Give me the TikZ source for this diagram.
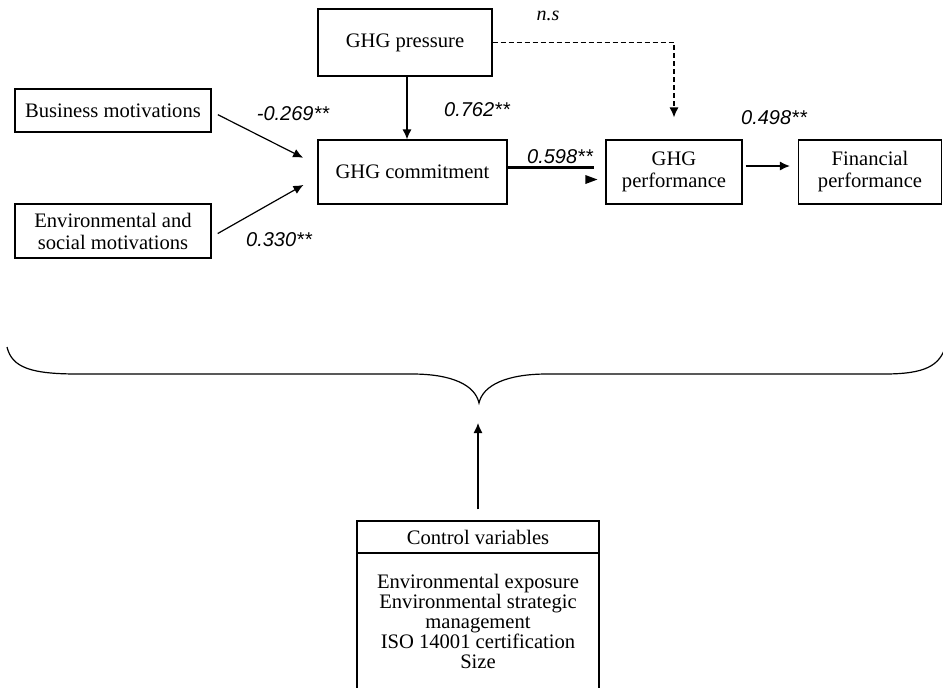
\documentclass[tikz,border=0pt]{standalone}
\usepackage{fontspec}
\setmainfont{Liberation Serif}
\newfontfamily\coeffont{Liberation Sans}
\usetikzlibrary{arrows.meta,positioning}

\begin{document}
\begin{tikzpicture}[
    x=0.5pt, y=-0.5pt,
    varbox/.style={draw, line width=0.6pt, align=center, inner sep=2pt,
        font=\fontsize{10.3}{11}\selectfont},
    coef/.style={font=\coeffont\fontsize{10}{12}\selectfont\itshape, inner sep=0pt},
    link/.style={line width=0.6pt, -{Latex[length=5pt,width=4.5pt]}}
]
\useasboundingbox (0,0) rectangle (943,687);

% variables
\node[varbox, minimum width=87pt, minimum height=33.5pt] (press) at (405,42.5) {GHG pressure};
\node[varbox, minimum width=98pt, minimum height=21.5pt] (busi) at (113,110.5) {Business motivations};
\node[varbox, minimum width=98pt, minimum height=27pt] (envi) at (113,231) {Environmental and\\social motivations};
\node[varbox, minimum width=94.5pt, minimum height=32pt] (comm) at (412.5,172) {GHG commitment};
\node[varbox, minimum width=68pt, minimum height=32pt] (perf) at (674,172) {GHG\\performance};
\node[varbox, minimum width=71.5pt, minimum height=32pt] (fina) at (870,172) {Financial\\performance};

% control variables
\node[varbox, minimum width=121pt, minimum height=16pt] (ctrlhead) at (478,537) {Control variables};
\node[varbox, minimum width=121pt, minimum height=68.5pt,
    font=\fontsize{10.3}{10.1}\selectfont] (ctrlbody) at (478,621.5)
    {Environmental exposure\\Environmental strategic\\management\\ISO 14001 certification\\Size};

% paths
\draw[link, shorten <=3.5pt, shorten >=8pt] ([yshift=-0.5pt]busi.east) -- ([yshift=3.5pt]comm.west);
\draw[link, shorten <=3.5pt, shorten >=8pt] ([yshift=-3pt]envi.east) -- ([yshift=-2.5pt]comm.west);
\draw[link] ([xshift=1pt]press.south) -- ([xshift=1pt]press.south |- comm.north);
\draw[line width=0.6pt, dash pattern=on 2.5pt off 1.5pt, -{Latex[length=5pt,width=4.5pt]},
    shorten >=11pt] (press.east) -| (perf.north);
\draw[line width=1.5pt, shorten >=5.5pt] ([yshift=2.5pt]comm.east) -- ([yshift=2.5pt]perf.west);
\fill ([shift={(-4pt,-3.75pt)}]perf.west) -- ([shift={(-10pt,-1.5pt)}]perf.west)
    -- ([shift={(-10pt,-6pt)}]perf.west) -- cycle;
\draw[link, shorten <=1.5pt, shorten >=4pt] ([yshift=3pt]perf.east) -- ([yshift=3pt]fina.west);

% coefficients
\node[coef] (c269) at (293,114) {-0.269**};
\node[coef] (c330) at (279,240) {0.330**};
\node[coef] (c762) at (477,110) {0.762**};
\node[coef] (c598) at (560,157) {0.598**};
\node[coef] (c498) at (774,118) {0.498**};
\node[font=\fontsize{10}{12}\selectfont\itshape, inner sep=0pt] (ns) at (548,16) {n.s};

% brace
\draw[line width=0.6pt] (7,347)
    .. controls (12,368) and (32,374) .. (78,374)
    -- (412,374)
    .. controls (452,374) and (475,385) .. (479,403)
    .. controls (483,385) and (507,374) .. (547,374)
    -- (884,374)
    .. controls (925,374) and (940,366) .. (946,345);
\coordinate (tip) at (478,403);
\draw[link, shorten <=5.5pt, shorten >=10pt] (ctrlhead.north) -- (tip);
\end{tikzpicture}
\end{document}
